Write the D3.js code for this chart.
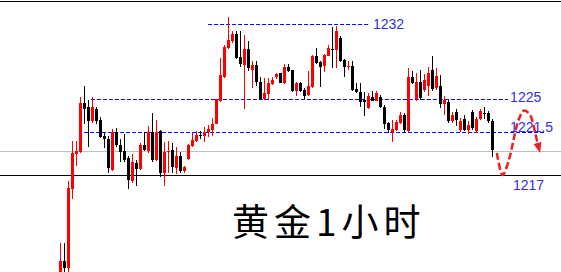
<!DOCTYPE html>
<html>
<head>
<meta charset="utf-8">
<script src="https://cdn.jsdelivr.net/npm/d3@7"></script>
<style>
  html, body { margin: 0; padding: 0; background: #fff; }
  svg { display: block; }
</style>
</head>
<body>
<svg id="chart" width="561" height="272"></svg>
<script>
// Gold, 1-hour candles (price in USD/oz)
const candleOpen = [
  1206.43, 1208.00, 1207.27, 1215.53, 1219.23, 1219.38, 1224.58, 1224.15, 1222.70, 1223.94,
  1222.77, 1221.08, 1220.74, 1217.52, 1221.55, 1220.14, 1219.46, 1218.78, 1216.37, 1218.26,
  1217.63, 1220.14, 1219.51, 1221.47, 1218.57, 1221.61, 1217.26, 1219.38, 1219.62, 1217.76,
  1218.99, 1217.47, 1218.67, 1220.04, 1220.56, 1221.19, 1221.08, 1221.45, 1221.68, 1222.35,
  1224.79, 1227.10, 1229.79, 1230.41, 1231.07, 1228.92, 1228.15, 1229.65, 1227.71, 1228.17,
  1226.63, 1224.97, 1225.49, 1226.40, 1227.07, 1227.41, 1226.48, 1227.99, 1227.69, 1225.75,
  1226.48, 1225.82, 1225.33, 1226.10, 1229.04, 1228.45, 1228.06, 1229.04, 1229.67, 1229.59,
  1230.72, 1228.64, 1227.94, 1228.10, 1225.93, 1225.63, 1224.89, 1224.01, 1225.23, 1224.84,
  1225.19, 1224.18, 1222.42, 1221.55, 1221.71, 1222.45, 1223.30, 1221.61, 1227.08, 1225.00,
  1226.61, 1225.84, 1226.21, 1227.71, 1226.00, 1226.21, 1224.47, 1224.68, 1222.67, 1223.62,
  1221.71, 1222.88, 1221.71, 1223.62, 1221.61, 1222.88, 1223.52, 1223.52, 1222.67
];
const candleHigh = [
  1209.88, 1209.88, 1216.37, 1220.56, 1220.56, 1225.19, 1226.21, 1224.89, 1225.19, 1224.15,
  1223.12, 1221.50, 1221.05, 1221.82, 1221.92, 1220.72, 1221.29, 1218.99, 1219.20, 1218.57,
  1220.35, 1221.55, 1222.14, 1223.48, 1222.77, 1221.71, 1220.49, 1220.53, 1220.30, 1219.96,
  1219.44, 1217.99, 1220.24, 1221.40, 1221.61, 1221.61, 1221.98, 1222.21, 1223.02, 1225.00,
  1228.85, 1230.01, 1232.61, 1231.32, 1231.32, 1231.32, 1230.93, 1230.37, 1228.52, 1228.52,
  1227.05, 1226.96, 1226.96, 1227.05, 1227.47, 1227.47, 1228.31, 1228.27, 1227.75, 1226.59,
  1226.59, 1226.07, 1227.61, 1229.11, 1229.74, 1228.55, 1229.20, 1230.01, 1231.74, 1231.83,
  1230.88, 1228.73, 1228.53, 1228.53, 1226.49, 1226.47, 1225.65, 1225.56, 1225.75, 1225.79,
  1225.37, 1224.36, 1222.59, 1222.77, 1222.77, 1223.65, 1223.52, 1227.85, 1227.57, 1227.47,
  1227.71, 1227.33, 1227.99, 1229.06, 1227.85, 1227.24, 1225.28, 1224.89, 1223.62, 1223.94,
  1222.98, 1223.30, 1222.67, 1223.83, 1223.09, 1223.94, 1224.15, 1223.73, 1222.88
];
const candleLow = [
  1206.01, 1206.85, 1206.85, 1214.49, 1217.94, 1219.30, 1222.35, 1219.93, 1222.49, 1222.35,
  1220.84, 1219.86, 1217.26, 1217.45, 1219.96, 1218.39, 1218.39, 1215.53, 1216.13, 1215.85,
  1217.52, 1219.51, 1219.30, 1218.39, 1218.47, 1216.79, 1215.85, 1217.16, 1217.18, 1217.07,
  1217.18, 1217.16, 1218.62, 1219.90, 1220.45, 1220.72, 1220.49, 1220.98, 1221.03, 1222.30,
  1224.68, 1226.96, 1229.69, 1230.20, 1228.76, 1227.99, 1223.99, 1227.59, 1225.98, 1226.17,
  1224.89, 1224.89, 1224.95, 1226.35, 1226.91, 1226.45, 1226.40, 1227.52, 1225.65, 1225.30,
  1225.65, 1225.00, 1225.28, 1226.03, 1228.31, 1226.10, 1227.54, 1228.97, 1227.92, 1227.92,
  1228.45, 1227.05, 1227.75, 1225.79, 1225.56, 1224.18, 1223.25, 1223.94, 1224.79, 1224.79,
  1224.05, 1221.82, 1221.36, 1220.42, 1221.61, 1222.35, 1221.47, 1221.50, 1226.40, 1224.79,
  1224.89, 1225.65, 1225.28, 1225.75, 1225.84, 1224.05, 1223.30, 1222.45, 1222.45, 1222.14,
  1221.50, 1221.61, 1221.29, 1221.71, 1221.40, 1222.77, 1222.88, 1222.45, 1218.88
];
const candleClose = [
  1208.00, 1207.27, 1215.64, 1219.30, 1219.54, 1224.58, 1223.94, 1222.67, 1224.15, 1222.70,
  1221.01, 1220.72, 1217.70, 1221.55, 1220.09, 1219.44, 1218.62, 1216.48, 1218.36, 1217.63,
  1220.14, 1219.62, 1221.47, 1218.57, 1221.47, 1217.26, 1219.44, 1219.56, 1217.87, 1218.99,
  1217.42, 1217.84, 1220.14, 1220.66, 1221.19, 1221.08, 1221.55, 1221.87, 1222.38, 1224.97,
  1227.24, 1229.85, 1230.48, 1231.07, 1228.85, 1228.22, 1229.69, 1227.85, 1228.17, 1226.63,
  1224.97, 1225.58, 1226.52, 1226.73, 1227.35, 1226.52, 1228.03, 1227.61, 1225.75, 1226.48,
  1225.75, 1225.31, 1226.21, 1229.04, 1228.39, 1228.01, 1229.13, 1229.80, 1229.61, 1231.35,
  1228.55, 1227.97, 1228.10, 1225.86, 1225.63, 1224.73, 1224.68, 1225.28, 1224.84, 1225.56,
  1224.18, 1222.30, 1221.71, 1221.82, 1222.59, 1223.30, 1221.66, 1227.08, 1226.47, 1226.61,
  1225.07, 1226.73, 1227.40, 1225.89, 1227.19, 1224.47, 1224.89, 1222.67, 1223.30, 1222.77,
  1222.67, 1221.71, 1222.24, 1221.92, 1222.88, 1223.73, 1223.41, 1222.67, 1219.62
];

// Key levels (dashed) with the bar range they span
const levelValues = [1232, 1225, 1221.5];
const levelLabels = ["1232", "1225", "1221.5"];
const levelFrom   = [36.9, 7.6, 5.9];
const levelTo     = [76.9, 111.9, 121.1];

// Solid reference lines: support and last price
const supportLevel = 1217;
const supportLabel = "1217";
const lastPrice = 1219.5;

// Projected path (bar position, price)
const projBar   = [109.1, 110.5, 112.1, 113.25, 114.5, 115.9, 117.4, 118.6, 119.25];
const projPrice = [1219.3, 1217.0, 1218.57, 1220.66, 1222.77, 1223.78, 1223.3, 1221.55, 1220.35];
const projTipBar = 119.9, projTipPrice = 1219.3;

const title = "黄金1小时";

const W = 561, H = 272;
const svg = d3.select("#chart");

const x = d3.scaleLinear().domain([0, 108]).range([60.5, 492.5]);
const y = d3.scaleLinear()
  .domain([supportLevel, levelValues[2], levelValues[1], levelValues[0]])
  .range([175, 132, 99, 24]);

const crisp = v => Math.round(v) + 0.5;

// frame top edge
svg.append("line")
  .attr("x1", 0).attr("x2", W).attr("y1", 1.5).attr("y2", 1.5)
  .attr("stroke", "#000").attr("stroke-width", 1);

// last price line
svg.append("line")
  .attr("x1", 0).attr("x2", W)
  .attr("y1", crisp(y(lastPrice))).attr("y2", crisp(y(lastPrice)))
  .attr("stroke", "#c0c0c0").attr("stroke-width", 1);

// support line
svg.append("line")
  .attr("x1", 0).attr("x2", W)
  .attr("y1", crisp(y(supportLevel))).attr("y2", crisp(y(supportLevel)))
  .attr("stroke", "#000").attr("stroke-width", 1);

// dashed levels
levelValues.forEach((v, i) => {
  svg.append("line")
    .attr("x1", x(levelFrom[i])).attr("x2", x(levelTo[i]))
    .attr("y1", crisp(y(v))).attr("y2", crisp(y(v)))
    .attr("stroke", "#0000ff").attr("stroke-width", 1)
    .attr("stroke-dasharray", "4,2");
});

// candles
const candles = d3.range(candleOpen.length).map(i => ({
  i, o: candleOpen[i], h: candleHigh[i], l: candleLow[i], c: candleClose[i]
}));
const colorOf = d => d.c >= d.o ? "#ff0000" : "#000000";

const g = svg.append("g");
g.selectAll("line.wick").data(candles).join("line")
  .attr("class", "wick")
  .attr("x1", d => x(d.i)).attr("x2", d => x(d.i))
  .attr("y1", d => Math.round(y(d.h))).attr("y2", d => Math.round(y(d.l)))
  .attr("stroke", colorOf).attr("stroke-width", 1);
g.selectAll("rect.body").data(candles).join("rect")
  .attr("class", "body")
  .attr("x", d => x(d.i) - 1.5)
  .attr("width", 3)
  .attr("y", d => Math.round(y(Math.max(d.o, d.c))))
  .attr("height", d => Math.max(1, Math.round(y(Math.min(d.o, d.c))) - Math.round(y(Math.max(d.o, d.c)))))
  .attr("fill", colorOf);

// level labels
const labelFont = "'Liberation Sans', Arial, sans-serif";
const labelColor = "#2f2fe8";
const labelX  = [78.1, 112.4, 112.4];
const labelDy = [4.5, 3, -0.5];
levelLabels.forEach((t, i) => {
  svg.append("text")
    .attr("x", x(labelX[i])).attr("y", y(levelValues[i]) + labelDy[i])
    .attr("font-family", labelFont).attr("font-size", 14)
    .attr("fill", labelColor).text(t);
});
svg.append("text")
  .attr("x", x(113.1)).attr("y", y(supportLevel) + 15)
  .attr("font-family", labelFont).attr("font-size", 14)
  .attr("fill", labelColor).text(supportLabel);

// projected path with arrow
const pts = projBar.map((b, i) => [x(b), y(projPrice[i])]);
svg.append("path")
  .attr("d", d3.line().curve(d3.curveCatmullRom.alpha(0.5))(pts))
  .attr("fill", "none").attr("stroke", "#f21d1d")
  .attr("stroke-width", 2.5).attr("stroke-dasharray", "7,3");
const base = pts[pts.length - 1];
const tip = [x(projTipBar), y(projTipPrice)];
const dx = tip[0] - base[0], dy = tip[1] - base[1];
const len = Math.hypot(dx, dy), nx = -dy / len * 4, ny = dx / len * 4;
svg.append("path")
  .attr("d", `M${tip[0]},${tip[1]}L${base[0] + nx},${base[1] + ny}L${base[0] - nx},${base[1] - ny}Z`)
  .attr("fill", "#f21d1d");

// title
svg.append("text")
  .attr("x", 232).attr("y", 235.5)
  .attr("font-family", "'Noto Sans CJK SC', sans-serif")
  .attr("font-size", 37).attr("letter-spacing", 5)
  .attr("fill", "#000").text(title);
</script>
</body>
</html>
